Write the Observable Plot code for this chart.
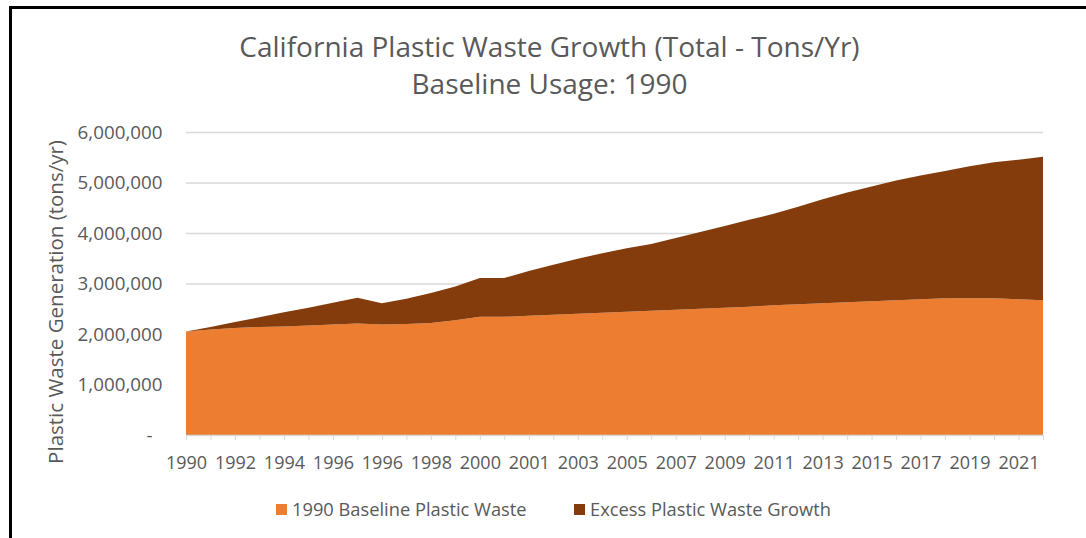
<!DOCTYPE html>
<html>
<head>
<meta charset="utf-8">
<script src="https://cdn.jsdelivr.net/npm/d3@7"></script>
<script src="https://cdn.jsdelivr.net/npm/@observablehq/plot@0.6"></script>
<style>
  body { margin: 0; background: #fff; font-family: "Open Sans", sans-serif; }
  #wrap { position: relative; width: 1086px; height: 538px; overflow: hidden; background: #fff; }
  #frame { position: absolute; left: 9px; top: 6px; width: 1100px; height: 600px; border-left: 3px solid #000; border-top: 3px solid #000; }
  #title { position: absolute; top: 28px; left: 0; width: 1099px; text-align: center; color: #595959; font-size: 28px; line-height: 37px; }
  #chart { position: absolute; top: 110px; left: 0; }
  #ytitle { position: absolute; left: 55px; top: 302px; transform: translate(-50%, -50%) rotate(-90deg); white-space: nowrap; color: #595959; font-size: 20.5px; }
  .leg { position: absolute; top: 497px; display: flex; align-items: center; color: #595959; font-size: 18.3px; line-height: 24px; }
  .sw { width: 11px; height: 11px; margin-right: 5px; }
</style>
</head>
<body>
<div id="wrap">
  <div id="frame"></div>
  <div id="title">California Plastic Waste Growth (Total - Tons/Yr)<br>Baseline Usage: 1990</div>
  <div id="ytitle">Plastic Waste Generation (tons/yr)</div>
  <div id="chart"></div>
  <div id="legend"></div>
</div>
<script>
// Category labels (as printed on the source axis, duplicates included)
const years = ["1990","1991","1992","1993","1994","1995","1996","1997","1996","1997",
               "1998","1999","2000","2000","2001","2002","2003","2004","2005","2006",
               "2007","2008","2009","2010","2011","2012","2013","2014","2015","2016",
               "2017","2018","2019","2020","2021","2022"];

const seriesNames = ["1990 Baseline Plastic Waste", "Excess Plastic Waste Growth"];
const seriesColors = ["#ED7D31", "#843C0C"];

// tons / yr
const baseline = [2050000,2090000,2120000,2140000,2150000,2170000,2190000,2210000,2190000,2200000,
                  2220000,2270000,2340000,2340000,2360000,2380000,2400000,2420000,2440000,2460000,
                  2480000,2500000,2520000,2540000,2570000,2590000,2610000,2630000,2650000,2670000,
                  2690000,2710000,2710000,2710000,2690000,2670000];

const excess = [0,50000,120000,190000,280000,350000,430000,510000,420000,500000,
                590000,670000,770000,770000,890000,990000,1090000,1180000,1260000,1320000,
                1420000,1520000,1620000,1720000,1810000,1930000,2060000,2170000,2270000,2370000,
                2450000,2520000,2610000,2690000,2760000,2840000];

const yTicks = [1000000,2000000,3000000,4000000,5000000,6000000];

const rows = [];
years.forEach((y, i) => {
  rows.push({i, series: seriesNames[0], value: baseline[i]});
  rows.push({i, series: seriesNames[1], value: excess[i]});
});

const chart = Plot.plot({
  width: 1086,
  height: 370,
  marginLeft: 186,
  marginRight: 43,
  marginTop: 22,
  marginBottom: 45,
  style: {fontFamily: "Open Sans", fontSize: "18px", color: "#595959", background: "transparent", overflow: "visible"},
  x: {type: "linear", domain: [0, years.length - 1]},
  y: {domain: [0, 6000000]},
  color: {domain: seriesNames, range: seriesColors},
  marks: [
    Plot.ruleY(yTicks, {stroke: "#d9d9d9", strokeWidth: 1.5}),
    Plot.areaY(rows, {x: "i", y: "value", fill: "series", z: "series", curve: "linear"}),
    Plot.ruleY([0], {stroke: "#d9d9d9", strokeWidth: 1.5}),
    Plot.axisX({ticks: d3.range(years.length), tickFormat: i => (i % 2 === 0 ? years[i] : ""),
                tickSize: 5, tickPadding: 16, stroke: "#d9d9d9", fill: "#595959", fontSize: 18, label: null}),
    Plot.axisY({ticks: yTicks, tickFormat: d3.format(","), tickSize: 0, tickPadding: 24, fill: "#595959", fontSize: 18.8, label: null}),
    Plot.axisY({ticks: [0], tickFormat: () => "-", tickSize: 0, tickPadding: 34, fill: "#595959", fontSize: 18.8, label: null})
  ]
});
document.getElementById("chart").appendChild(chart);

// legend
const legLeft = [276, 574];
const legend = document.getElementById("legend");
seriesNames.forEach((name, k) => {
  const item = document.createElement("div");
  item.className = "leg";
  item.style.left = legLeft[k] + "px";
  const sw = document.createElement("div");
  sw.className = "sw";
  sw.style.background = seriesColors[k];
  const t = document.createElement("span");
  t.textContent = name;
  item.appendChild(sw);
  item.appendChild(t);
  legend.appendChild(item);
});
</script>
</body>
</html>
